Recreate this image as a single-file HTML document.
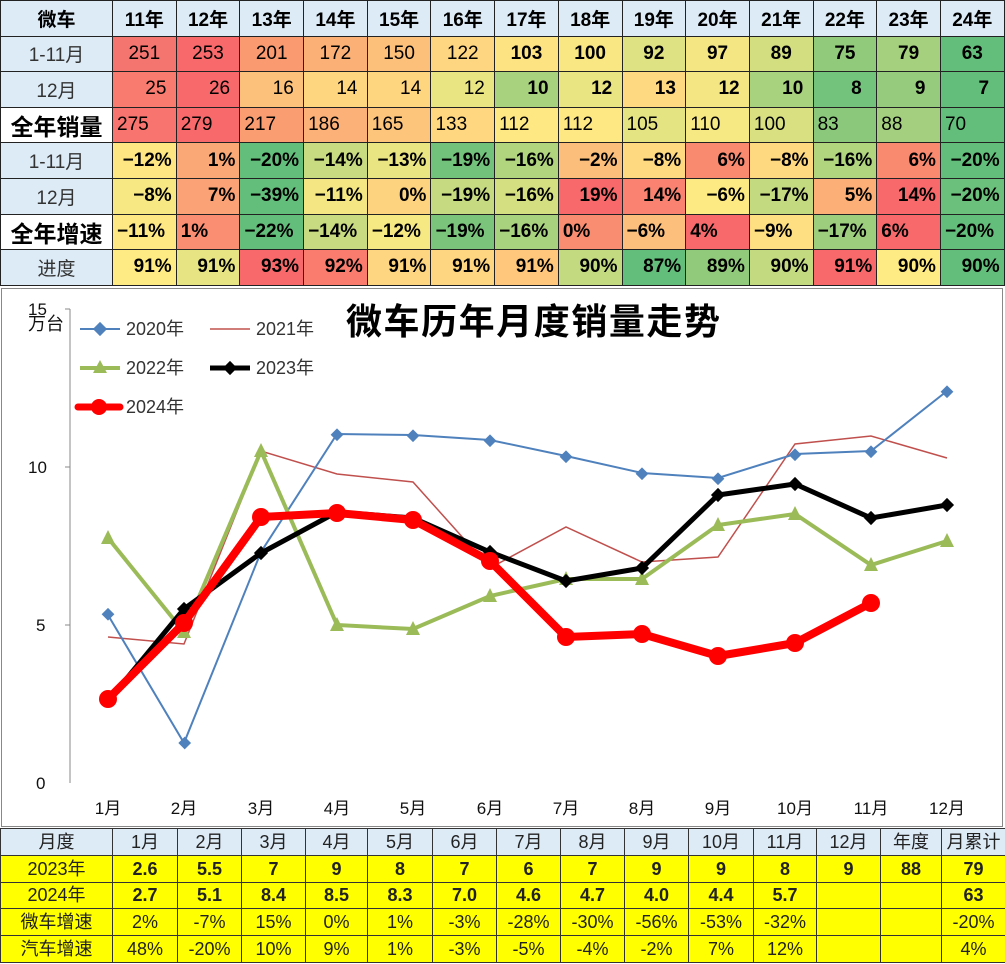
<!DOCTYPE html>
<html><head><meta charset="utf-8">
<style>
body{margin:0;width:1005px;height:964px;background:#fff;overflow:hidden;font-family:"Liberation Sans","Noto Sans CJK SC",sans-serif;position:relative}
table{border-collapse:collapse;position:absolute;left:0;table-layout:fixed}
#t1{top:0;width:1004px}
#t1 tr{height:35.6px}
#t1 td{border:1px solid #222;height:35.6px;padding:0 4px;font-size:19px;white-space:nowrap;overflow:hidden;box-sizing:border-box}
#t1 td.l{background:#ddebf7;text-align:center;color:#333;padding:0}
#t1 td.w{background:#fff;font-weight:bold;font-size:23px;color:#000;text-align:center;padding:0}
#t1 tr.h td{background:#ddebf7;font-weight:bold;text-align:center;font-size:19px}
#t1 td.r{text-align:right}
#t1 td.c{text-align:center}
#t1 td.b{font-weight:bold}
#t2{top:828px;width:1005px}
#t2 tr{height:26.8px}
#t2 td{border:1px solid #333;height:26.8px;line-height:24px;padding:0;text-align:center;font-family:"Liberation Sans Narrow","Liberation Sans","Noto Sans CJK SC",sans-serif;font-size:18px;background:#ffff00;color:#222;box-sizing:border-box;overflow:hidden;white-space:nowrap}
#t2 tr.h td{background:#ddebf7}
#t2 td.b{font-weight:bold}
</style></head><body>
<table id="t1">
<colgroup><col style="width:112px"><col span="14" style="width:63.7px"></colgroup>
<tr class="h"><td>微车</td><td>11年</td><td>12年</td><td>13年</td><td>14年</td><td>15年</td><td>16年</td><td>17年</td><td>18年</td><td>19年</td><td>20年</td><td>21年</td><td>22年</td><td>23年</td><td>24年</td></tr>
<tr><td class="l">1-11月</td><td class="c" style="background:#f4756f">251</td><td class="c" style="background:#f8696b">253</td><td class="c" style="background:#f99a70">201</td><td class="c" style="background:#fbb076">172</td><td class="c" style="background:#fcc07a">150</td><td class="c" style="background:#fed580">122</td><td class="c b" style="background:#fee382">103</td><td class="c b" style="background:#f9e783">100</td><td class="c b" style="background:#dfe282">92</td><td class="c b" style="background:#f3e683">97</td><td class="c b" style="background:#d3de81">89</td><td class="c b" style="background:#92ca7b">75</td><td class="c b" style="background:#a5d07d">79</td><td class="c b" style="background:#63be7b">63</td></tr>
<tr><td class="l">12月</td><td class="r" style="background:#f97a6e">25&nbsp;</td><td class="r" style="background:#f8696b">26&nbsp;</td><td class="r" style="background:#fcc17b">16&nbsp;</td><td class="r" style="background:#fed680">14&nbsp;</td><td class="r" style="background:#fed680">14&nbsp;</td><td class="r" style="background:#eae583">12&nbsp;</td><td class="r b" style="background:#a9d27e">10&nbsp;</td><td class="r b" style="background:#eae583">12&nbsp;</td><td class="r b" style="background:#fed981">13&nbsp;</td><td class="r b" style="background:#f4e783">12&nbsp;</td><td class="r b" style="background:#a9d27e">10&nbsp;</td><td class="r b" style="background:#74c37c">8&nbsp;&nbsp;</td><td class="r b" style="background:#96cb7d">9&nbsp;&nbsp;</td><td class="r b" style="background:#63be7b">7&nbsp;&nbsp;</td></tr>
<tr><td class="w">全年销量</td><td style="background:#f8746e">275</td><td style="background:#f8696b">279</td><td style="background:#fa9d71">217</td><td style="background:#fbb177">186</td><td style="background:#fdc47c">165</td><td style="background:#fed780">133</td><td style="background:#fee883">112</td><td style="background:#fee883">112</td><td style="background:#e5e483">105</td><td style="background:#f6e883">110</td><td style="background:#d8e082">100</td><td style="background:#8cc87c">83</td><td style="background:#a3cf7e">88</td><td style="background:#63be7b">70</td></tr>
<tr><td class="l">1-11月</td><td class="r b" style="background:#fee683">−12%</td><td class="r b" style="background:#fba877">1%</td><td class="r b" style="background:#63be7b">−20%</td><td class="r b" style="background:#c8db81">−14%</td><td class="r b" style="background:#e9e583">−13%</td><td class="r b" style="background:#72c27b">−19%</td><td class="r b" style="background:#b1d47f">−16%</td><td class="r b" style="background:#fcbf7b">−2%</td><td class="r b" style="background:#fed980">−8%</td><td class="r b" style="background:#f98a70">6%</td><td class="r b" style="background:#fed980">−8%</td><td class="r b" style="background:#b1d47f">−16%</td><td class="r b" style="background:#f98a70">6%</td><td class="r b" style="background:#63be7b">−20%</td></tr>
<tr><td class="l">12月</td><td class="r b" style="background:#f7e883">−8%</td><td class="r b" style="background:#fba276">7%</td><td class="r b" style="background:#63be7b">−39%</td><td class="r b" style="background:#f3e683">−11%</td><td class="r b" style="background:#fdd37f">0%</td><td class="r b" style="background:#c5da81">−19%</td><td class="r b" style="background:#d4df82">−16%</td><td class="r b" style="background:#f8696b">19%</td><td class="r b" style="background:#f98370">14%</td><td class="r b" style="background:#feea83">−6%</td><td class="r b" style="background:#c4da81">−17%</td><td class="r b" style="background:#fcaf77">5%</td><td class="r b" style="background:#f8696b">14%</td><td class="r b" style="background:#6bc07b">−20%</td></tr>
<tr><td class="w">全年增速</td><td class="b" style="background:#fee883">−11%</td><td class="b" style="background:#f98e72">1%</td><td class="b" style="background:#63be7b">−22%</td><td class="b" style="background:#c9db81">−14%</td><td class="b" style="background:#f6e883">−12%</td><td class="b" style="background:#7ac47c">−19%</td><td class="b" style="background:#a9d27e">−16%</td><td class="b" style="background:#f98d71">0%</td><td class="b" style="background:#fdc07c">−6%</td><td class="b" style="background:#f8696b">4%</td><td class="b" style="background:#fee082">−9%</td><td class="b" style="background:#9dce7e">−17%</td><td class="b" style="background:#f8696b">6%</td><td class="b" style="background:#63be7b">−20%</td></tr>
<tr><td class="l">进度</td><td class="r b" style="background:#ffeb84">91%</td><td class="r b" style="background:#e6e483">91%</td><td class="r b" style="background:#f8696b">93%</td><td class="r b" style="background:#f97c6f">92%</td><td class="r b" style="background:#fed580">91%</td><td class="r b" style="background:#fed580">91%</td><td class="r b" style="background:#fec77c">91%</td><td class="r b" style="background:#c4da81">90%</td><td class="r b" style="background:#63be7b">87%</td><td class="r b" style="background:#92ca7b">89%</td><td class="r b" style="background:#c4da81">90%</td><td class="r b" style="background:#f8696b">91%</td><td class="r b" style="background:#ffeb84">90%</td><td class="r b" style="background:#63be7b">90%</td></tr>
</table>

<svg style="position:absolute;left:0;top:286px" width="1005" height="542" viewBox="0 286 1005 542">
<rect x="1.5" y="288.5" width="1001" height="538" fill="#fff" stroke="#888"/>
<g font-family="Liberation Sans,Noto Sans CJK SC,sans-serif" font-size="17" fill="#111">
<line x1="70" y1="309" x2="70" y2="783" stroke="#888"/>
<line x1="65" y1="309" x2="70" y2="309" stroke="#888"/>
<line x1="65" y1="467" x2="70" y2="467" stroke="#888"/>
<line x1="65" y1="625" x2="70" y2="625" stroke="#888"/>
<text x="28" y="315">15</text>
<text x="28" y="473">10</text>
<text x="36" y="631">5</text>
<text x="36" y="789">0</text>
<text x="28" y="330" font-size="18">万台</text>
<g text-anchor="middle">
<text x="108" y="814">1月</text><text x="184" y="814">2月</text><text x="261" y="814">3月</text><text x="337" y="814">4月</text><text x="413" y="814">5月</text><text x="490" y="814">6月</text><text x="566" y="814">7月</text><text x="642" y="814">8月</text><text x="718" y="814">9月</text><text x="795" y="814">10月</text><text x="871" y="814">11月</text><text x="947" y="814">12月</text>
</g>
<text x="346" y="334" font-size="36" font-weight="bold" fill="#000" textLength="374">微车历年月度销量走势</text>
<g font-size="18" fill="#333">
<line x1="80" y1="329" x2="120" y2="329" stroke="#4f81bd" stroke-width="2"/><rect x="95" y="324" width="10" height="10" fill="#4f81bd" transform="rotate(45 100 329)"/>
<text x="126" y="335">2020年</text>
<line x1="210" y1="329" x2="250" y2="329" stroke="#c0504d" stroke-width="1.5"/>
<text x="256" y="335">2021年</text>
<line x1="80" y1="368" x2="120" y2="368" stroke="#9bbb59" stroke-width="4"/><polygon points="100,360 93,373 107,373" fill="#9bbb59"/>
<text x="126" y="374">2022年</text>
<line x1="210" y1="368" x2="250" y2="368" stroke="#000" stroke-width="5"/><rect x="225" y="363" width="10" height="10" fill="#000" transform="rotate(45 230 368)"/>
<text x="256" y="374">2023年</text>
<line x1="78" y1="407" x2="120" y2="407" stroke="#f00" stroke-width="7" stroke-linecap="round"/><circle cx="99" cy="407" r="8" fill="#f00"/>
<text x="126" y="413">2024年</text>
</g>
</g>
<polyline fill="none" stroke="#c0504d" stroke-width="1.5" points="108,637 184,644 261,451 337,474 413,482 490,568 566,527 642,562 718,557 795,444 871,436 947,458"/>
<polyline fill="none" stroke="#4f81bd" stroke-width="2" points="108,615 184,743 261,552 337,434 413,435 490,440 566,456 642,473 718,478 795,454 871,451 947,391"/>
<g fill="#4f81bd"><rect x="103" y="610" width="9" height="9" transform="rotate(45 108 615)"/><rect x="180" y="738" width="9" height="9" transform="rotate(45 184 743)"/><rect x="333" y="430" width="9" height="9" transform="rotate(45 337 434)"/><rect x="409" y="431" width="9" height="9" transform="rotate(45 413 435)"/><rect x="486" y="436" width="9" height="9" transform="rotate(45 490 440)"/><rect x="562" y="452" width="9" height="9" transform="rotate(45 566 456)"/><rect x="638" y="469" width="9" height="9" transform="rotate(45 642 473)"/><rect x="714" y="474" width="9" height="9" transform="rotate(45 718 478)"/><rect x="791" y="450" width="9" height="9" transform="rotate(45 795 454)"/><rect x="867" y="447" width="9" height="9" transform="rotate(45 871 451)"/><rect x="943" y="387" width="9" height="9" transform="rotate(45 947 391)"/></g>
<polyline fill="none" stroke="#9bbb59" stroke-width="4" points="108,538 184,632 261,451 337,625 413,629 490,596 566,579 642,579 718,525 795,514 871,565 947,541"/>
<g fill="#9bbb59"><polygon points="108,530 101,544 115,544"/><polygon points="184,624 177,638 191,638"/><polygon points="261,443 254,457 268,457"/><polygon points="337,617 330,631 344,631"/><polygon points="413,621 406,635 420,635"/><polygon points="490,588 483,602 497,602"/><polygon points="566,571 559,585 573,585"/><polygon points="642,571 635,585 649,585"/><polygon points="718,517 711,531 725,531"/><polygon points="795,506 788,520 802,520"/><polygon points="871,557 864,571 878,571"/><polygon points="947,533 940,547 954,547"/></g>
<polyline fill="none" stroke="#000" stroke-width="5" points="108,701 184,609 261,553 337,512 413,518 490,552 566,581 642,568 718,495 795,484 871,518 947,505"/>
<g fill="#000"><rect x="179" y="604" width="10" height="10" transform="rotate(45 184 609)"/><rect x="256" y="548" width="10" height="10" transform="rotate(45 261 553)"/><rect x="485" y="547" width="10" height="10" transform="rotate(45 490 552)"/><rect x="561" y="576" width="10" height="10" transform="rotate(45 566 581)"/><rect x="637" y="563" width="10" height="10" transform="rotate(45 642 568)"/><rect x="713" y="490" width="10" height="10" transform="rotate(45 718 495)"/><rect x="790" y="479" width="10" height="10" transform="rotate(45 795 484)"/><rect x="866" y="513" width="10" height="10" transform="rotate(45 871 518)"/><rect x="942" y="500" width="10" height="10" transform="rotate(45 947 505)"/></g>
<polyline fill="none" stroke="#f00" stroke-width="8" stroke-linejoin="round" points="108,699 184,623 261,517 337,513 413,520 490,561 566,637 642,634 718,656 795,643 871,603"/>
<g fill="#f00"><circle cx="108" cy="699" r="9"/><circle cx="184" cy="623" r="9"/><circle cx="261" cy="517" r="9"/><circle cx="337" cy="513" r="9"/><circle cx="413" cy="520" r="9"/><circle cx="490" cy="561" r="9"/><circle cx="566" cy="637" r="9"/><circle cx="642" cy="634" r="9"/><circle cx="718" cy="656" r="9"/><circle cx="795" cy="643" r="9"/><circle cx="871" cy="603" r="9"/></g>
</svg>

<table id="t2">
<colgroup><col style="width:112px"><col style="width:65px"><col style="width:64px"><col style="width:64px"><col style="width:62px"><col style="width:65px"><col style="width:64px"><col style="width:64px"><col style="width:64px"><col style="width:64px"><col style="width:65px"><col style="width:63px"><col style="width:64px"><col style="width:61px"><col style="width:64px"></colgroup>
<tr class="h"><td>月度</td><td>1月</td><td>2月</td><td>3月</td><td>4月</td><td>5月</td><td>6月</td><td>7月</td><td>8月</td><td>9月</td><td>10月</td><td>11月</td><td>12月</td><td>年度</td><td>月累计</td></tr>
<tr><td>2023年</td><td class="b">2.6</td><td class="b">5.5</td><td class="b">7</td><td class="b">9</td><td class="b">8</td><td class="b">7</td><td class="b">6</td><td class="b">7</td><td class="b">9</td><td class="b">9</td><td class="b">8</td><td class="b">9</td><td class="b">88</td><td class="b">79</td></tr>
<tr><td>2024年</td><td class="b">2.7</td><td class="b">5.1</td><td class="b">8.4</td><td class="b">8.5</td><td class="b">8.3</td><td class="b">7.0</td><td class="b">4.6</td><td class="b">4.7</td><td class="b">4.0</td><td class="b">4.4</td><td class="b">5.7</td><td></td><td></td><td class="b">63</td></tr>
<tr><td>微车增速</td><td>2%</td><td>-7%</td><td>15%</td><td>0%</td><td>1%</td><td>-3%</td><td>-28%</td><td>-30%</td><td>-56%</td><td>-53%</td><td>-32%</td><td></td><td></td><td>-20%</td></tr>
<tr><td>汽车增速</td><td>48%</td><td>-20%</td><td>10%</td><td>9%</td><td>1%</td><td>-3%</td><td>-5%</td><td>-4%</td><td>-2%</td><td>7%</td><td>12%</td><td></td><td></td><td>4%</td></tr>
</table>
</body></html>
